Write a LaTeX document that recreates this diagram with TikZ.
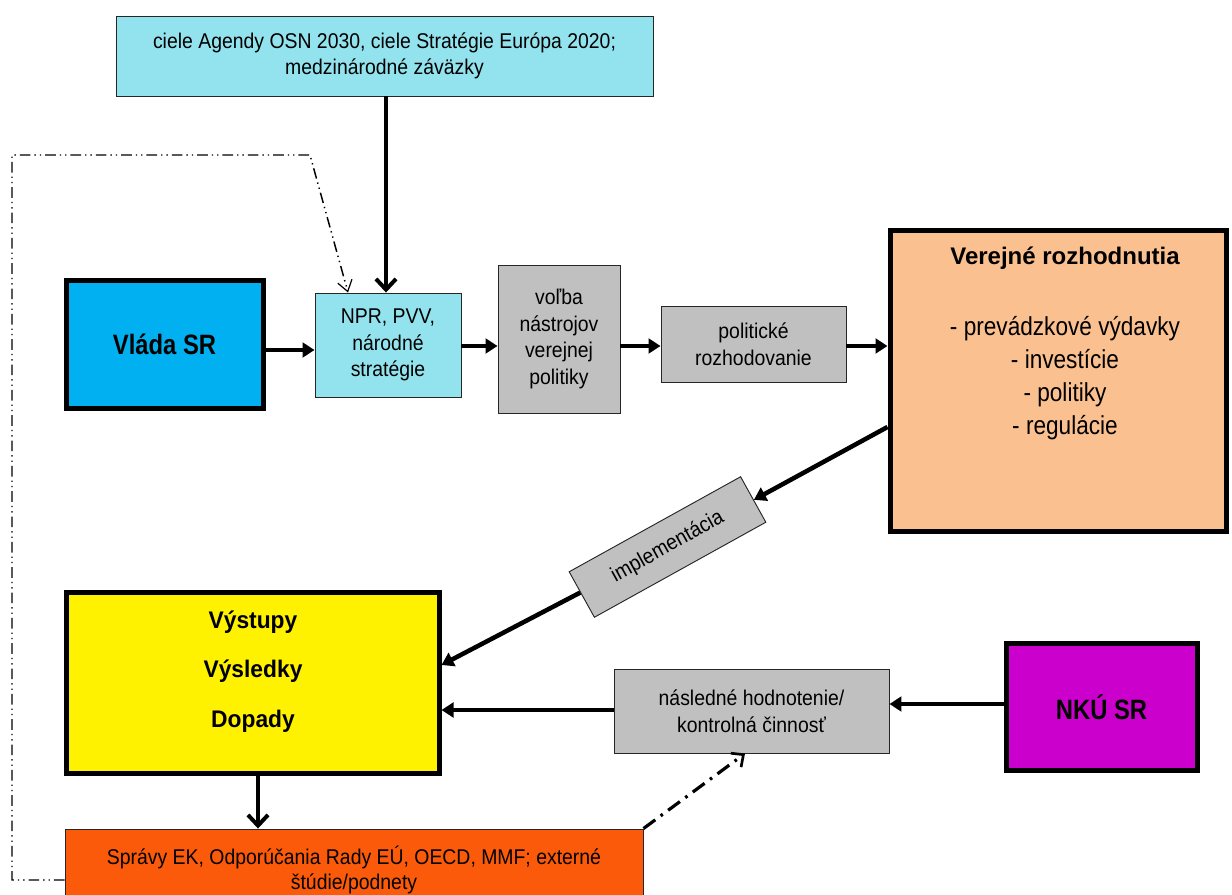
\documentclass[tikz,border=0pt]{standalone}
\usepackage{fontspec}
\setmainfont{Liberation Sans}
\newfontfamily\narrowreg[FakeStretch=0.91]{Liberation Sans}
\newfontfamily\narrowlist[FakeStretch=0.87]{Liberation Sans}
\newfontfamily\narrowbold[FakeStretch=0.85]{Liberation Sans}
\newfontfamily\semibold[FakeStretch=0.95]{Liberation Sans}
\usetikzlibrary{arrows.meta}
\definecolor{cyanl}{HTML}{92E3EE}
\definecolor{vblue}{HTML}{00B0F0}
\definecolor{grayb}{HTML}{C0C0C0}
\definecolor{peach}{HTML}{FAC090}
\definecolor{magen}{HTML}{CC00CC}
\definecolor{orng}{HTML}{FA5A0A}
\tikzset{
  thinbox/.style={draw=black!85, line width=0.7pt, inner sep=0pt, align=center,
    font=\narrowreg\fontsize{16}{20}\selectfont},
  thickbox/.style={draw=black, line width=3.75pt, inner sep=0pt, align=center,
    font=\narrowbold\bfseries\fontsize{21}{24}\selectfont},
  arr/.style={line width=3.4pt, -{Triangle[length=9pt,width=11pt]}},
  barb/.style={line width=3pt, -{Straight Barb[length=8pt,width=15pt]}},
  loopline/.style={line width=1.1pt, dash pattern=on 8pt off 3pt on 1pt off 3pt on 1pt off 3pt,
    -{Straight Barb[length=8pt,width=11pt,line width=0.9pt]}},
  dashdot/.style={line width=2.4pt, dash pattern=on 11pt off 5pt on 2pt off 5pt,
    -{Straight Barb[length=7pt,width=13pt,line width=2pt]}},
}
\begin{document}
\begin{tikzpicture}[x=0.75pt,y=-0.75pt]
\useasboundingbox (0,0) rectangle (1232,895);
\clip (0,0) rectangle (1232,895);
\fill[white] (0,0) rectangle (1232,895);

% boxes
\node[thinbox, fill=cyanl, minimum width=402.75pt, minimum height=60pt] (top) at (384.5,56)
  {ciele Agendy OSN 2030, ciele Stratégie Európa 2020;\\medzinárodné záväzky};
\node[thickbox, fill=vblue, minimum width=147.75pt, minimum height=96pt] (vlada) at (164.5,344)
  {Vláda SR};
\node[thinbox, fill=cyanl, minimum width=109.5pt, minimum height=78pt] (npr) at (388,345)
  {NPR, PVV,\\národné\\stratégie};
\node[thinbox, fill=grayb, minimum width=91.5pt, minimum height=111pt] (volba) at (559,339)
  {voľba\\nástrojov\\verejnej\\politiky};
\node[thinbox, fill=grayb, minimum width=138.75pt, minimum height=57pt] (polit) at (753.5,344)
  {politické\\rozhodovanie};
\node[thickbox, fill=peach, minimum width=252pt, minimum height=225pt] (verej) at (1058,381) {};
\node[inner sep=0pt, font=\bfseries\fontsize{18}{22}\selectfont] (verejtitle) at (1065,258)
  {Verejné rozhodnutia};
\node[align=center, inner sep=0pt, font=\narrowlist\fontsize{19.5}{24.75}\selectfont] (verejlist) at (1065,378)
  {- prevádzkové výdavky\\- investície\\- politiky\\- regulácie};
\node[thinbox, fill=grayb, minimum width=147pt, minimum height=39pt, rotate=29] (impl) at (667.5,547)
  {implementácia};
\node[thickbox, fill=yellow, minimum width=279.75pt, minimum height=135.75pt] (vyst) at (252.5,682.5) {};
\node[align=center, inner sep=0pt, font=\semibold\bfseries\fontsize{18}{37}\selectfont] (vysttxt) at (253,671.5)
  {Výstupy\\Výsledky\\Dopady};
\node[thinbox, fill=grayb, minimum width=206.25pt, minimum height=63pt] (nasl) at (751.5,711)
  {následné hodnotenie/\\kontrolná činnosť};
\node[thickbox, fill=magen, minimum width=143.25pt, minimum height=95.25pt] (nku) at (1101.5,707)
  {NKÚ SR};
\node[thinbox, fill=orng, minimum width=433.5pt, minimum height=61.5pt,
  font=\narrowreg\fontsize{16}{18.5}\selectfont] (spravy) at (354,870)
  {Správy EK, Odporúčania Rady EÚ, OECD, MMF; externé\\štúdie/podnety};

% connectors
\draw[barb] (top.south -| 386,0) -- (npr.north -| 386,0);
\draw[arr] (vlada.east |- 0,350) -- (npr.west |- 0,350);
\draw[arr] (npr.east |- 0,346) -- (volba.west |- 0,346);
\draw[arr] (volba.east |- 0,346) -- (polit.west |- 0,346);
\draw[arr] (polit.east |- 0,346) -- (verej.west |- 0,346);
\draw[arr] (verej.west |- 0,427) -- (impl);
\draw[arr] (impl) -- (vyst.east |- 0,665);
\draw[arr] (nasl.west |- 0,710) -- (vyst.east |- 0,710);
\draw[arr] (nku.west |- 0,704) -- (nasl.east |- 0,704);
\draw[barb] (vyst.south -| 258,0) -- (spravy.north -| 258,0);
\draw[dashdot] (spravy.north east) -- (nasl.south -| 745,0);
\draw[loopline] (spravy.west |- 0,880) -- (12,880) -- (12,155) -- (310,155) -- (npr.north -| 348,0);
\end{tikzpicture}
\end{document}
